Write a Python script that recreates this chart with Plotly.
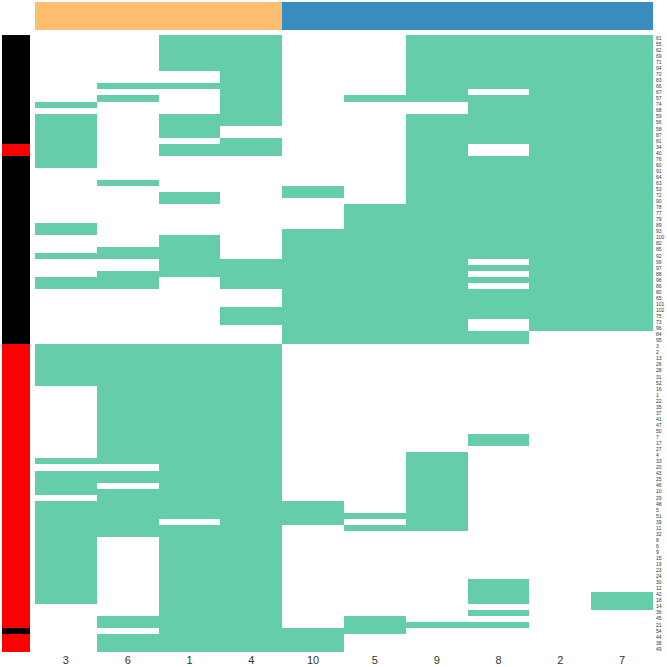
import plotly.graph_objects as go

# Column order (bottom labels) and top-annotation group
columns = ["3", "6", "1", "4", "10", "5", "9", "8", "2", "7"]
column_group = [0, 0, 0, 0, 1, 1, 1, 1, 1, 1]

# Row labels, top to bottom
row_labels = [
    "61", "55", "62", "69", "71", "94", "70", "83", "66", "67", "57", "74", "68", "59", "56", "58", "87", "81",
    "34", "40", "76", "60", "91", "64", "63", "53", "72", "90", "78", "77", "79", "89", "93", "100", "82", "85",
    "92", "99", "97", "88", "98", "86", "80", "65", "101", "102", "75", "73", "96", "84", "95",
    "3", "2", "13", "26", "28", "31", "52", "16", "1", "22", "35", "37", "41", "47", "50", "7", "17", "27", "4",
    "33", "20", "43", "25", "46", "10", "29", "48", "5", "51", "39", "11", "32", "8", "6", "9", "15", "19", "23",
    "24", "30", "12", "42", "18", "14", "36", "45", "21", "54", "44", "38", "49",
]

# Left annotation: 1 = black group, 0 = red group (row ranges, inclusive)
black_rows = [(0, 17), (20, 50), (98, 98)]

# Green cells per column, as inclusive row ranges
green_3 = [(11, 11), (13, 21), (31, 32), (36, 36), (40, 41), (51, 57), (70, 70), (72, 75), (77, 93)]
green_6 = [(8, 8), (10, 10), (24, 24), (35, 36), (39, 41), (51, 70), (72, 73), (75, 82), (96, 97), (99, 101)]
green_1 = [(0, 5), (8, 8), (13, 16), (18, 19), (26, 27), (33, 39), (51, 79), (81, 101)]
green_4 = [(0, 14), (17, 19), (37, 41), (45, 47), (51, 101)]
green_10 = [(25, 26), (32, 50), (77, 80), (98, 101)]
green_5 = [(10, 10), (28, 50), (79, 79), (81, 81), (96, 98)]
green_9 = [(0, 10), (13, 50), (69, 81), (97, 97)]
green_8 = [(0, 8), (10, 17), (20, 36), (38, 38), (40, 40), (42, 46), (49, 50), (66, 67), (90, 93), (95, 95), (97, 97)]
green_2 = [(0, 48)]
green_7 = [(0, 48), (92, 94)]

col_runs = [green_3, green_6, green_1, green_4, green_10, green_5, green_9, green_8, green_2, green_7]

n = len(row_labels)
z = [[0] * len(columns) for _ in range(n)]
for j, runs in enumerate(col_runs):
    for a, b in runs:
        for i in range(a, b + 1):
            z[i][j] = 1

side = [[0] for _ in range(n)]
for a, b in black_rows:
    for i in range(a, b + 1):
        side[i][0] = 1

W = H = 667
def px(v):
    return v / W
def py(v):
    return 1 - v / H

fig = go.Figure()
fig.add_trace(go.Heatmap(
    z=z, x=columns, y=row_labels, xaxis="x", yaxis="y",
    colorscale=[[0, "#FFFFFF"], [1, "#66CDAA"]], zmin=0, zmax=1, showscale=False,
    hoverinfo="x+y+z",
))
fig.add_trace(go.Heatmap(
    z=[column_group], x=columns, y=["grp"], xaxis="x2", yaxis="y2",
    colorscale=[[0, "#FDBF6F"], [1, "#3A8BBE"]], zmin=0, zmax=1, showscale=False,
))
fig.add_trace(go.Heatmap(
    z=side, x=["cls"], y=row_labels, xaxis="x3", yaxis="y3",
    colorscale=[[0, "#FF0000"], [1, "#000000"]], zmin=0, zmax=1, showscale=False,
))

fig.update_layout(
    width=W, height=H, margin=dict(l=0, r=0, t=0, b=0, autoexpand=False),
    paper_bgcolor="white", plot_bgcolor="white", showlegend=False,
    xaxis=dict(domain=[px(35), px(653)], anchor="y", showgrid=False, zeroline=False, automargin=False,
               tickfont=dict(size=11, color="#333333", family="Arial"), ticks="", showline=False,
               ticklabelstandoff=0),
    yaxis=dict(domain=[py(652), py(35)], anchor="x", side="right", autorange="reversed", automargin=False,
               tickmode="array", tickvals=row_labels, ticktext=row_labels,
               tickfont=dict(size=5, color="#333333", family="Arial"), ticks="", showgrid=False,
               zeroline=False, ticklabelstandoff=2),
    xaxis2=dict(domain=[px(35), px(653)], anchor="y2", showticklabels=False, showgrid=False, zeroline=False),
    yaxis2=dict(domain=[py(30), py(2)], anchor="x2", showticklabels=False, showgrid=False, zeroline=False),
    xaxis3=dict(domain=[px(2), px(30)], anchor="y3", showticklabels=False, showgrid=False, zeroline=False),
    yaxis3=dict(domain=[py(652), py(35)], anchor="x3", autorange="reversed", showticklabels=False,
                showgrid=False, zeroline=False, matches="y"),
)

fig.write_html("out.html", config={"displayModeBar": False},
               post_script="document.body.style.margin='0px';document.body.style.overflow='hidden';")
